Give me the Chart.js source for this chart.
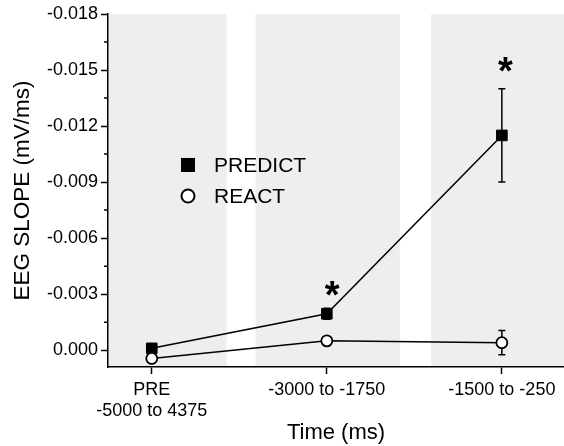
<!DOCTYPE html>
<html><head><meta charset="utf-8">
<script src="https://cdn.jsdelivr.net/npm/chart.js@4/dist/chart.umd.min.js"></script>
<style>html,body{margin:0;padding:0;background:#fff}</style>
</head><body>
<canvas id="c" width="564" height="446"></canvas>
<script>
// ---- data ----
const categories = [['PRE', '-5000 to 4375'], '-3000 to -1750', '-1500 to -250'];
const categoryPositions = [0, 1, 2];
const predictValues = [-0.0001, -0.00195, -0.0115];
const predictErrors = [0.0001, 0.0003, 0.0025];
const reactValues = [0.00044, -0.0005, -0.0004];
const reactErrors = [0.0001, 0.0001, 0.00065];
const asteriskPoints = [{x: 1.03, y: -0.0033}, {x: 2.02, y: -0.0153}];
const yTicks = [-0.018, -0.015, -0.012, -0.009, -0.006, -0.003, 0];
const yTickLabels = ['-0.018', '-0.015', '-0.012', '-0.009', '-0.006', '-0.003', '0.000'];
const shadedBands = [[-0.25, 0.427], [0.593, 1.417], [1.596, 2.36]];
const seriesNames = ['PREDICT', 'REACT'];

const FONT = "'Liberation Sans', Arial, sans-serif";

const toXY = (vals) => vals.map((v, i) => ({x: categoryPositions[i], y: v}));

const bandsPlugin = {
  id: 'bands',
  beforeDraw(chart) {
    const {ctx, chartArea: a, scales: {x}} = chart;
    ctx.save();
    ctx.fillStyle = '#eeeeee';
    shadedBands.forEach(([s, e]) => {
      const x0 = Math.max(a.left, x.getPixelForValue(s));
      const x1 = Math.min(a.right, x.getPixelForValue(e));
      ctx.fillRect(x0, a.top, x1 - x0, a.bottom - a.top);
    });
    ctx.restore();
  }
};

const errorPlugin = {
  id: 'errs',
  beforeDatasetsDraw(chart) {
    const {ctx, scales: {x, y}} = chart;
    ctx.save();
    ctx.strokeStyle = '#000';
    ctx.lineWidth = 1.5;
    const draw = (vals, errs) => vals.forEach((v, i) => {
      const px = x.getPixelForValue(categoryPositions[i]);
      const y0 = y.getPixelForValue(v - errs[i]);
      const y1 = y.getPixelForValue(v + errs[i]);
      ctx.beginPath();
      ctx.moveTo(px, y0); ctx.lineTo(px, y1);
      ctx.moveTo(px - 3.5, y0); ctx.lineTo(px + 3.5, y0);
      ctx.moveTo(px - 3.5, y1); ctx.lineTo(px + 3.5, y1);
      ctx.stroke();
    });
    draw(predictValues, predictErrors);
    draw(reactValues, reactErrors);
    ctx.restore();
  },
  afterDatasetsDraw(chart) {
    const {ctx, chartArea: a, scales: {x, y}} = chart;
    ctx.save();
    // asterisks
    ctx.fillStyle = '#000';
    ctx.font = 'bold 38px ' + FONT;
    ctx.textAlign = 'center';
    ctx.textBaseline = 'alphabetic';
    const m = ctx.measureText('*');
    const off = (m.actualBoundingBoxAscent - m.actualBoundingBoxDescent) / 2;
    asteriskPoints.forEach(p => {
      ctx.fillText('*', x.getPixelForValue(p.x), y.getPixelForValue(p.y) + off);
    });
    // legend
    const lx = a.left + 80, ly = a.top + 151;
    ctx.fillRect(lx - 7, ly - 7, 14, 14);
    ctx.beginPath();
    ctx.arc(lx, ly + 31, 6.5, 0, Math.PI * 2);
    ctx.fillStyle = '#fff'; ctx.fill();
    ctx.lineWidth = 2; ctx.strokeStyle = '#000'; ctx.stroke();
    ctx.fillStyle = '#000';
    ctx.font = '21px ' + FONT;
    ctx.textAlign = 'left';
    ctx.textBaseline = 'middle';
    ctx.fillText(seriesNames[0], lx + 26, ly + 1);
    ctx.fillText(seriesNames[1], lx + 26, ly + 32);
    // minor y ticks
    ctx.lineWidth = 1.5;
    ctx.beginPath();
    for (let i = 0; i < yTicks.length - 1; i++) {
      const py = y.getPixelForValue((yTicks[i] + yTicks[i + 1]) / 2);
      ctx.moveTo(a.left - 4, py); ctx.lineTo(a.left, py);
    }
    ctx.stroke();
    ctx.restore();
  }
};

new Chart(document.getElementById('c'), {
  type: 'line',
  data: {
    datasets: [
      {
        label: seriesNames[0], data: toXY(predictValues), order: 1,
        borderColor: '#000', borderWidth: 1.5, tension: 0,
        pointStyle: 'rect', pointRadius: 7.5, pointBorderWidth: 1,
        pointBackgroundColor: '#000', pointBorderColor: '#000'
      },
      {
        label: seriesNames[1], data: toXY(reactValues), order: 0,
        borderColor: '#000', borderWidth: 1.5, tension: 0,
        pointStyle: 'circle', pointRadius: 5.5, pointBorderWidth: 1.8,
        pointBackgroundColor: '#fff', pointBorderColor: '#000'
      }
    ]
  },
  options: {
    responsive: false,
    animation: false,
    devicePixelRatio: 1,
    layout: {autoPadding: false, padding: {top: 14, right: 0, bottom: 0, left: 0}},
    plugins: {legend: {display: false}, tooltip: {enabled: false}},
    scales: {
      x: {
        type: 'linear', min: -0.25, max: 2.355,
        afterBuildTicks: (s) => { s.ticks = categoryPositions.map(v => ({value: v})); },
        afterFit: (s) => { s.height = 79; s.paddingLeft = 0; s.paddingRight = 0; },
        ticks: {
          callback: (v, i) => categories[i],
          color: '#000', font: {family: FONT, size: 18}, padding: 5, maxRotation: 0, autoSkip: false
        },
        grid: {drawOnChartArea: false, color: '#000', tickLength: 7, tickWidth: 1.5},
        border: {display: true, color: '#000', width: 1.5},
        title: {display: true, text: 'Time (ms)', color: '#000', font: {family: FONT, size: 22}, padding: {top: 0, bottom: 0}}
      },
      y: {
        type: 'linear', reverse: true, min: -0.018, max: 0.0009,
        afterBuildTicks: (s) => { s.ticks = yTicks.map(v => ({value: v})); },
        afterFit: (s) => { s.width = 108; },
        ticks: {
          callback: (v, i) => yTickLabels[i],
          color: '#000', font: {family: FONT, size: 18}, padding: 3, autoSkip: false
        },
        grid: {drawOnChartArea: false, color: '#000', tickLength: 7, tickWidth: 1.5},
        border: {display: true, color: '#000', width: 1.5},
        title: {display: true, text: 'EEG SLOPE (mV/ms)', color: '#000', font: {family: FONT, size: 22.5}, padding: {top: 9, bottom: 0}}
      }
    }
  },
  plugins: [bandsPlugin, errorPlugin]
});
</script>
</body></html>
